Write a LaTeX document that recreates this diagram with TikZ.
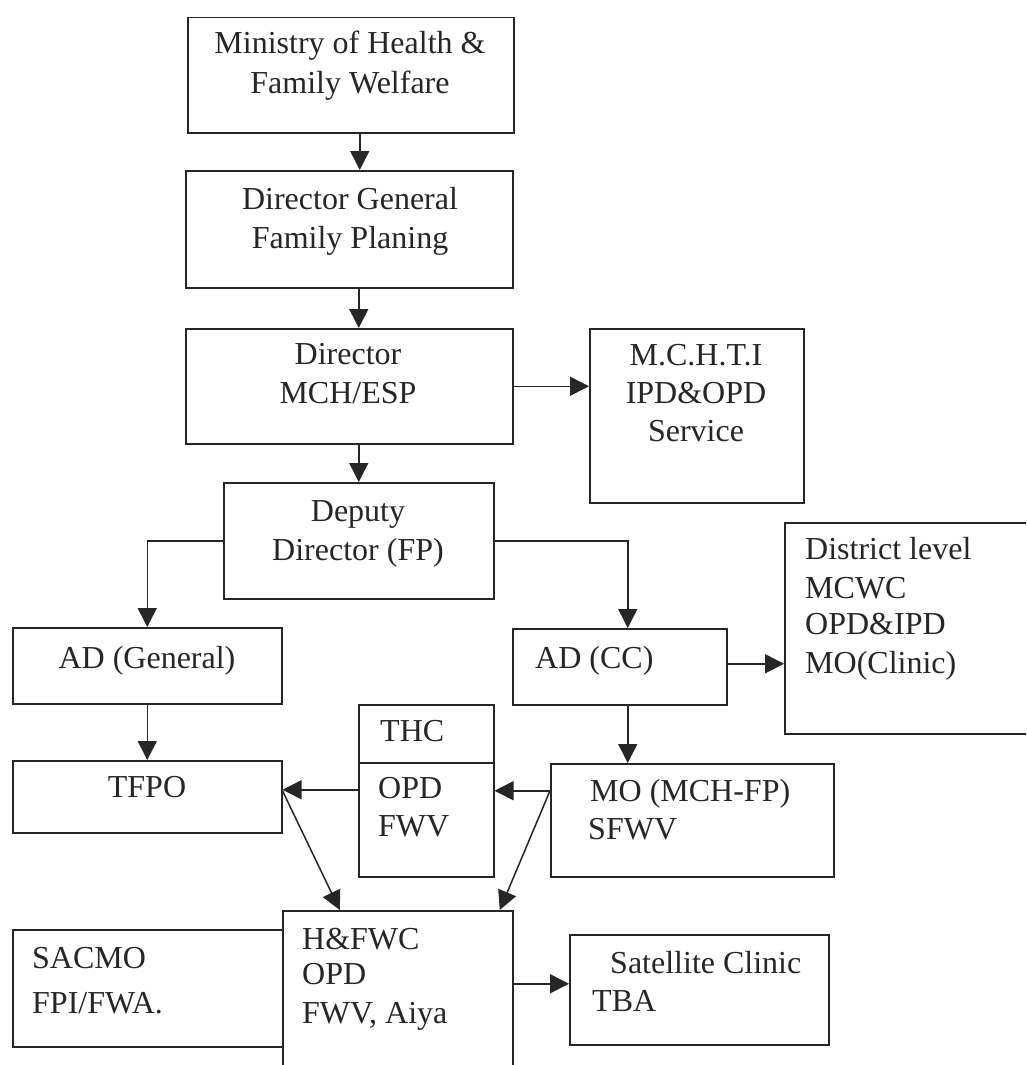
\documentclass[tikz,border=0pt]{standalone}
\usepackage{fontspec}
\setmainfont{Liberation Serif}
\usetikzlibrary{arrows.meta}
\begin{document}
\begin{tikzpicture}[x=1pt,y=-1pt,
  box/.style={draw=black!85, line width=1.5pt, rectangle, anchor=north west, inner sep=0pt},
  txt/.style={font=\fontsize{32}{39}\selectfont, inner sep=0pt, anchor=base, text=black!85},
  ltxt/.style={txt, anchor=base west},
  arr/.style={draw=black!85, line width=1.5pt, -{Triangle[length=19pt,width=19pt]}}]
\clip (0,0) rectangle (1026,1065);
\fill[white] (0,0) rectangle (1026,1065);
% boxes
\node[box, minimum width=326pt, minimum height=115pt] (min) at (187,17) {};
\node[box, minimum width=327pt, minimum height=117pt] (dg) at (185,170) {};
\node[box, minimum width=327pt, minimum height=115pt] (dir) at (185,328) {};
\node[box, minimum width=214pt, minimum height=174pt] (mchti) at (589,328) {};
\node[box, minimum width=270pt, minimum height=116pt] (dep) at (223,482) {};
\node[box, minimum width=260pt, minimum height=211pt] (dist) at (784,522) {};
\node[box, minimum width=269pt, minimum height=76pt] (adg) at (12,627) {};
\node[box, minimum width=214pt, minimum height=76pt] (adcc) at (512,628) {};
\node[box, minimum width=135pt, minimum height=58pt] (thct) at (358,704) {};
\node[box, minimum width=135pt, minimum height=114pt] (thcb) at (358,762) {};
\node[box, minimum width=269pt, minimum height=72pt] (tfpo) at (12,760) {};
\node[box, minimum width=283pt, minimum height=113pt] (mo) at (550,763) {};
\node[box, minimum width=270pt, minimum height=117pt] (sacmo) at (12,929) {};
\node[box, minimum width=230pt, minimum height=170pt] (hfwc) at (282,910) {};
\node[box, minimum width=259pt, minimum height=110pt] (sat) at (569,934) {};
% texts
\node[txt] (t1a) at (350,54) {Ministry of Health \&};
\node[txt] (t1b) at (350,93) {Family Welfare};
\node[txt] (t2a) at (350,209) {Director General};
\node[txt] (t2b) at (350,248) {Family Planing};
\node[txt] (t3a) at (348,364) {Director};
\node[txt] (t3b) at (348,403) {MCH/ESP};
\node[txt] (t4a) at (696,365) {M.C.H.T.I};
\node[txt] (t4b) at (696,403) {IPD\&OPD};
\node[txt] (t4c) at (696,441) {Service};
\node[txt] (t5a) at (358,521) {Deputy};
\node[txt] (t5b) at (358,560) {Director (FP)};
\node[ltxt] (t6a) at (805,559) {District level};
\node[ltxt] (t6b) at (805,598) {MCWC};
\node[ltxt] (t6c) at (805,634) {OPD\&IPD};
\node[ltxt] (t6d) at (805,673) {MO(Clinic)};
\node[txt] (t7) at (147,668) {AD (General)};
\node[ltxt] (t8) at (535,668) {AD (CC)};
\node[ltxt] (t9a) at (380,741) {THC};
\node[ltxt] (t9b) at (378,798) {OPD};
\node[ltxt] (t9c) at (378,836) {FWV};
\node[txt] (t10) at (147,797) {TFPO};
\node[ltxt] (t11a) at (590,801) {MO (MCH-FP)};
\node[ltxt] (t11b) at (588,839) {SFWV};
\node[ltxt] (t12a) at (32,968) {SACMO};
\node[ltxt] (t12b) at (32,1013) {FPI/FWA.};
\node[ltxt] (t13a) at (302,949) {H\&FWC};
\node[ltxt] (t13b) at (302,984) {OPD};
\node[ltxt] (t13c) at (302,1023) {FWV, Aiya};
\node[ltxt] (t14a) at (610,973) {Satellite Clinic};
\node[ltxt] (t14b) at (592,1011) {TBA};
% connectors
\draw[arr] ([xshift=9pt]min.south) -- ([xshift=9pt]min.south |- dg.north);
\draw[arr] ([xshift=9.5pt]dg.south) -- ([xshift=9.5pt]dg.south |- dir.north);
\draw[arr] (dep.north |- dir.south) -- (dep.north);
\draw[arr] (dir.east) -- (dir.east -| mchti.west);
\draw[arr] (dep.west) -| (adg.north);
\draw[arr] (dep.east) -| ([xshift=8pt]adcc.north);
\draw[arr] (adg.south) -- (tfpo.north);
\draw[arr] ([yshift=3pt]adcc.east) -- ([yshift=3pt]adcc.east -| dist.west);
\draw[arr] ([xshift=8pt]adcc.south) -- ([xshift=8pt]adcc.south |- mo.north);
\draw[arr] ([yshift=29.5pt]mo.west) -- ([yshift=29.5pt]mo.west -| thcb.east);
\draw[arr] ([yshift=30pt]thcb.west) -- ([yshift=30pt]thcb.west -| tfpo.east);
\draw[arr] ([yshift=6pt]tfpo.east) -- ([xshift=-58pt]hfwc.north);
\draw[arr] ([yshift=29.5pt]mo.west) -- ([xshift=102pt]hfwc.north);
\draw[arr] ([yshift=6pt]sat.west -| hfwc.east) -- ([yshift=6pt]sat.west);
\end{tikzpicture}
\end{document}
